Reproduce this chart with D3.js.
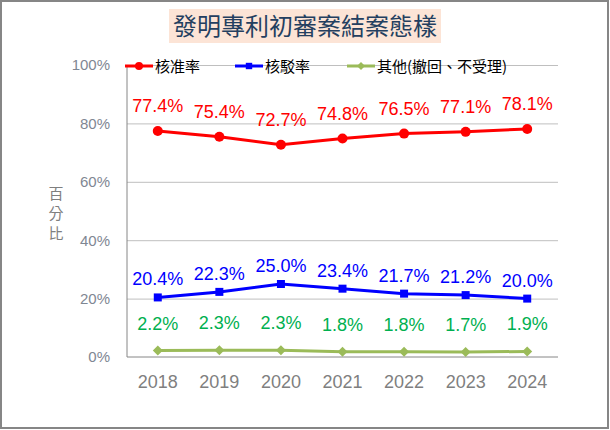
<!DOCTYPE html>
<html lang="zh-Hant">
<head>
    <meta charset="UTF-8">
    <title>發明專利初審案結案態樣</title>
    <style>
        body, html {
            margin: 0;
            padding: 0;
            background: #fff;
        }
        svg text {
            font-family: "Liberation Sans", Arial, "Noto Sans CJK TC", sans-serif;
        }
        .cjk {
            font-family: "Noto Sans CJK TC", "Noto Sans CJK SC", sans-serif !important;
        }
        .grid line {
            stroke: #bfbfbf;
            stroke-width: 1px;
        }
    </style>
</head>
<body>
<div id="chart"></div>

<script src="https://d3js.org/d3.v7.min.js"></script>
<script>
    // data
    const years = ["2018", "2019", "2020", "2021", "2022", "2023", "2024"];
    const approved = [77.4, 75.4, 72.7, 74.8, 76.5, 77.1, 78.1];
    const rejected = [20.4, 22.3, 25.0, 23.4, 21.7, 21.2, 20.0];
    const others = [2.2, 2.3, 2.3, 1.8, 1.8, 1.7, 1.9];
    const yTicks = [0, 20, 40, 60, 80, 100];
    const seriesNames = ["核准率", "核駁率", "其他(撤回、不受理)"];

    const width = 610, height = 430;

    const svg = d3.select("#chart")
        .append("svg")
        .attr("width", width)
        .attr("height", height);

    // outer frame
    svg.append("rect")
        .attr("x", 1).attr("y", 1)
        .attr("width", width - 3).attr("height", height - 3)
        .attr("fill", "#fff")
        .attr("stroke", "#868686")
        .attr("stroke-width", 2);

    // title box
    svg.append("rect")
        .attr("x", 169).attr("y", 9)
        .attr("width", 272).attr("height", 34)
        .attr("fill", "#fce4d6");
    svg.append("text")
        .attr("class", "cjk")
        .attr("x", 305).attr("y", 35)
        .attr("text-anchor", "middle")
        .attr("font-size", 24)
        .attr("fill", "#243f60")
        .text("發明專利初審案結案態樣");

    const x = d3.scaleBand().domain(years).range([127, 558]);
    const y = d3.scaleLinear().domain([0, 100]).range([357, 65]);
    const cx = d => x(d) + x.bandwidth() / 2;

    // gridlines
    svg.append("g")
        .attr("class", "grid")
        .attr("transform", "translate(127,0)")
        .call(d3.axisLeft(y).tickValues(yTicks.slice(1)).tickSize(-431).tickFormat(""))
        .call(g => g.select(".domain").remove());

    // y tick labels
    svg.append("g")
        .attr("transform", "translate(127,0)")
        .call(d3.axisLeft(y).tickValues(yTicks).tickSize(0).tickPadding(17).tickFormat(d => d + "%"))
        .call(g => g.select(".domain").remove())
        .call(g => g.selectAll("text")
            .attr("font-size", 15)
            .attr("fill", "#7f8793")
            .attr("font-family", "'Liberation Sans', Arial, sans-serif"));

    // axis lines
    svg.append("line")
        .attr("x1", 127).attr("x2", 127)
        .attr("y1", y(100)).attr("y2", y(0))
        .attr("stroke", "#868686").attr("stroke-width", 1);
    svg.append("line")
        .attr("x1", 127).attr("x2", 558)
        .attr("y1", y(0)).attr("y2", y(0))
        .attr("stroke", "#868686").attr("stroke-width", 1);

    // x labels
    svg.append("g")
        .attr("transform", `translate(0,${y(0)})`)
        .call(d3.axisBottom(x).tickSize(0).tickPadding(18))
        .call(g => g.select(".domain").remove())
        .call(g => g.selectAll("text")
            .attr("font-size", 18)
            .attr("fill", "#7f7f7f")
            .attr("font-family", "'Liberation Sans', Arial, sans-serif"));

    // y axis title, stacked vertically
    svg.append("g").selectAll("text")
        .data(["百", "分", "比"])
        .join("text")
        .attr("class", "cjk")
        .attr("x", 56)
        .attr("y", (d, i) => 199 + i * 20)
        .attr("text-anchor", "middle")
        .attr("font-size", 15)
        .attr("fill", "#7f7f7f")
        .text(d => d);

    const series = [
        { name: seriesNames[0], values: approved, color: "#ff0000", labelColor: "#ff0000", marker: "circle", dy: -19 },
        { name: seriesNames[1], values: rejected, color: "#0000ff", labelColor: "#0000ff", marker: "square", dy: -12 },
        { name: seriesNames[2], values: others, color: "#9bbb59", labelColor: "#00b050", marker: "diamond", dy: -21 }
    ];

    const line = d3.line()
        .x((d, i) => cx(years[i]))
        .y(d => y(d));

    function drawMarker(sel, type, color, px, py, s) {
        if (type === "circle") {
            sel.append("circle").attr("cx", px).attr("cy", py).attr("r", 5 * s).attr("fill", color);
        } else if (type === "square") {
            sel.append("rect").attr("x", px - 4 * s).attr("y", py - 4 * s)
                .attr("width", 8 * s).attr("height", 8 * s).attr("fill", color);
        } else {
            const r = 5 * s;
            sel.append("path")
                .attr("d", `M${px},${py - r}L${px + r},${py}L${px},${py + r}L${px - r},${py}Z`)
                .attr("fill", color);
        }
    }

    series.forEach(s => {
        const g = svg.append("g");
        g.append("path")
            .datum(s.values)
            .attr("fill", "none")
            .attr("stroke", s.color)
            .attr("stroke-width", 3)
            .attr("d", line);
        s.values.forEach((v, i) => drawMarker(g, s.marker, s.color, cx(years[i]), y(v), 1));
        g.selectAll("text.lbl")
            .data(s.values)
            .join("text")
            .attr("class", "lbl")
            .attr("x", (d, i) => cx(years[i]))
            .attr("y", d => y(d) + s.dy)
            .attr("text-anchor", "middle")
            .attr("font-size", 18)
            .attr("fill", s.labelColor)
            .text(d => d.toFixed(1) + "%");
    });

    // legend
    const legendX = [125, 235, 347];
    series.forEach((s, i) => {
        const g = svg.append("g");
        const lx = legendX[i], ly = 66;
        g.append("line")
            .attr("x1", lx).attr("x2", lx + 28)
            .attr("y1", ly).attr("y2", ly)
            .attr("stroke", s.color).attr("stroke-width", 3);
        drawMarker(g, s.marker, s.color, lx + 14, ly, 0.8);
        g.append("text")
            .attr("class", "cjk")
            .attr("x", lx + 30)
            .attr("y", ly + 5.5)
            .attr("font-size", 15)
            .attr("fill", "#000")
            .text(s.name);
    });
</script>
</body>
</html>
